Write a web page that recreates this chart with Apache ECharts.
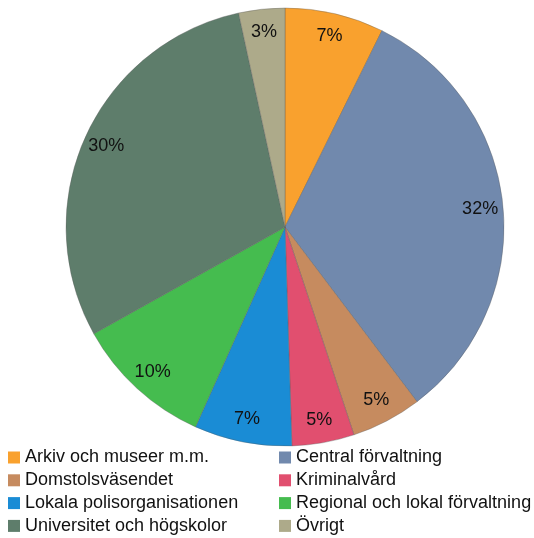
<!DOCTYPE html>
<html>
<head>
<meta charset="utf-8">
<script src="https://cdn.jsdelivr.net/npm/echarts@6/dist/echarts.min.js"></script>
<style>html,body{margin:0;padding:0;background:#fff}#c{width:534px;height:538px}</style>
</head>
<body>
<div id="c"></div>
<script>
const categories = ['Arkiv och museer m.m.', 'Central förvaltning', 'Domstolsväsendet', 'Kriminalvård',
  'Lokala polisorganisationen', 'Regional och lokal förvaltning', 'Universitet och högskolor', 'Övrigt'];
const values = [7.3, 32.4, 5.2, 4.6, 7.2, 10.2, 29.7, 3.4];
const colors = ['#F9A12E', '#7189AD', '#C68B5F', '#E14F6F', '#1A8CD5', '#45BC4F', '#5E7D6B', '#ADAA8A'];

const FONT = '"Liberation Sans", Arial, sans-serif';
const data = categories.map((n, i) => ({ name: n, value: values[i], itemStyle: { color: colors[i] } }));
const labelData = categories.map((n, i) => ({ name: n, value: values[i] }));
const legendItems = idx => idx.map(i => ({ name: categories[i], itemStyle: { color: colors[i], borderWidth: 0 } }));

const legendCommon = {
  orient: 'vertical', top: 448.5, padding: 0, height: 90, itemWidth: 12, itemHeight: 12, itemGap: 4.8,
  icon: 'rect', selectedMode: false,
  itemStyle: { borderWidth: 0 },
  textStyle: { fontFamily: FONT, fontSize: 18, lineHeight: 18, color: '#111' }
};

const chart = echarts.init(document.getElementById('c'), null, { renderer: 'canvas' });
chart.setOption({
  animation: false,
  backgroundColor: '#fff',
  legend: [
    Object.assign({}, legendCommon, { left: 8, data: legendItems([0, 2, 4, 6]) }),
    Object.assign({}, legendCommon, { left: 279, data: legendItems([1, 3, 5, 7]) })
  ],
  series: [
    {
      type: 'pie', center: [285, 227], radius: [0, 219], startAngle: 90, clockwise: true,
      data: data, label: { show: false }, labelLine: { show: false },
      itemStyle: { borderColor: 'rgba(90,90,90,0.45)', borderWidth: 0.8 },
      emphasis: { disabled: true }, silent: true
    },
    {
      type: 'pie', center: [285, 227], radius: [167, 219], startAngle: 90, clockwise: true,
      data: labelData, itemStyle: { color: 'rgba(0,0,0,0)' },
      label: {
        show: true, position: 'inside', fontFamily: FONT, fontSize: 18, color: '#111',
        formatter: p => Math.round(p.percent) + '%'
      },
      labelLine: { show: false }, emphasis: { disabled: true }, silent: true
    }
  ]
});
</script>
</body>
</html>
